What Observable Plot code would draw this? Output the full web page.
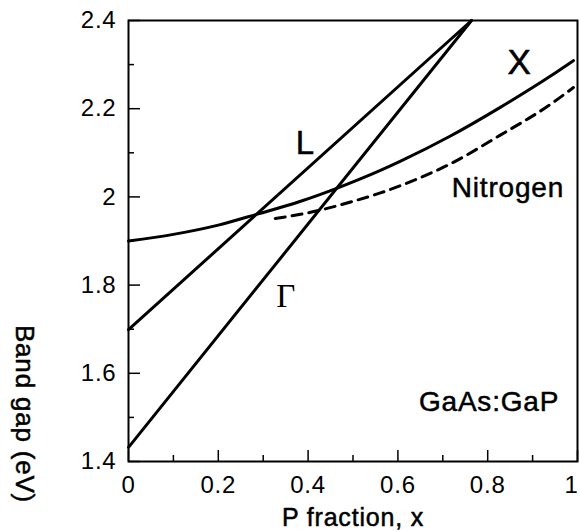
<!DOCTYPE html>
<html><head><meta charset="utf-8">
<script src="https://cdn.jsdelivr.net/npm/d3@7"></script>
<script src="https://cdn.jsdelivr.net/npm/@observablehq/plot@0.6"></script>
<style>
html,body{margin:0;padding:0;background:#fff;}
#chart svg text{letter-spacing:0.8px;}
</style></head><body><div id="chart"></div>
<script>
// Band edges vs P fraction x (GaAs:GaP)
const gammaX = [0, 0.764];
const gammaE = [1.432, 2.4];
const lX = [0, 0.764];
const lE = [1.699, 2.4];
const xBandX = [0, 0.1, 0.2, 0.287, 0.38, 0.465, 0.561, 0.606, 0.717, 0.828, 0.94, 0.991];
const xBandE = [1.900, 1.915, 1.936, 1.961, 1.989, 2.02, 2.06, 2.081, 2.138, 2.203, 2.274, 2.309];
const nitroX = [0.327, 0.423, 0.5, 0.561, 0.612, 0.717, 0.828, 0.94, 0.991];
const nitroE = [1.951, 1.969, 1.99, 2.009, 2.028, 2.075, 2.14, 2.21, 2.248];

const xMajor = [0, 0.2, 0.4, 0.6, 0.8, 1];
const xMinor = [0.1, 0.3, 0.5, 0.7, 0.9];
const yMajor = [1.4, 1.6, 1.8, 2.0, 2.2, 2.4];
const yMinor = [1.5, 1.7, 1.9, 2.1, 2.3];

const labelText = ["L", "Γ", "X", "Nitrogen", "GaAs:GaP"];
const labelX = [0.394, 0.351, 0.871, 0.845, 0.803];
const labelY = [2.121, 1.774, 2.305, 2.019, 1.534];

const toRows = (xs, es) => xs.map((x, i) => ({x, e: es[i]}));
const gamma = toRows(gammaX, gammaE);
const lband = toRows(lX, lE);
const xband = toRows(xBandX, xBandE);
const nitro = toRows(nitroX, nitroE);
const labels = labelText.map((t, i) => ({t, x: labelX[i], y: labelY[i]}));

const fmt = d => String(+d.toFixed(1));
const sans = "'Liberation Sans', Arial, Helvetica, sans-serif";
const heavy = {fill: "black", stroke: "black", strokeWidth: 0.5};
const xLast = xMajor[xMajor.length - 1];

const chart = Plot.plot({
  width: 580, height: 532,
  marginLeft: 128, marginRight: 3, marginTop: 20, marginBottom: 71,
  style: {fontFamily: sans, background: "#fff", color: "black", overflow: "visible"},
  x: {domain: [0, 1]},
  y: {domain: [1.4, 2.4]},
  marks: [
    Plot.frame({stroke: "black", strokeWidth: 2}),
    Plot.axisY(yMajor, {tickSize: -12, text: null, strokeWidth: 1.5, label: null}),
    Plot.axisY(yMinor, {tickSize: -6, text: null, strokeWidth: 1.5, label: null}),
    Plot.axisY(yMajor, {tickSize: 0, tickPadding: 12, fontSize: 24, tickFormat: fmt, label: null, ...heavy}),
    Plot.axisX(xMajor, {tickSize: -11, text: null, strokeWidth: 1.5, label: null}),
    Plot.axisX(xMinor, {tickSize: -6, text: null, strokeWidth: 1.5, label: null}),
    Plot.axisX(xMajor.filter(d => d !== xLast), {tickSize: 0, tickPadding: 14, fontSize: 24, tickFormat: fmt, label: null, ...heavy}),
    Plot.axisX([xLast], {tickSize: 0, tickPadding: 14, fontSize: 24, tickFormat: fmt, label: null, dx: -6, ...heavy}),
    Plot.line(gamma, {x: "x", y: "e", stroke: "black", strokeWidth: 3}),
    Plot.line(lband, {x: "x", y: "e", stroke: "black", strokeWidth: 3}),
    Plot.line(xband, {x: "x", y: "e", stroke: "black", strokeWidth: 3, curve: "monotone-x"}),
    Plot.line(nitro, {x: "x", y: "e", stroke: "black", strokeWidth: 3, curve: "monotone-x", strokeDasharray: "10,7"}),
    Plot.text(labels.filter(d => d.t === "L"), {x: "x", y: "y", text: "t", fontSize: 33, ...heavy}),
    Plot.text(labels.filter(d => d.t === "X"), {x: "x", y: "y", text: "t", fontSize: 35, ...heavy}),
    Plot.text(labels.filter(d => d.t === "Γ"), {x: "x", y: "y", text: "t", fontSize: 33, fill: "black", fontFamily: "'Liberation Serif', 'Times New Roman', serif"}),
    Plot.text(labels.filter(d => d.t === "Nitrogen" || d.t === "GaAs:GaP"), {x: "x", y: "y", text: "t", fontSize: 28, ...heavy}),
    Plot.text(["P fraction, x"], {frameAnchor: "bottom", textAnchor: "middle", lineAnchor: "middle", dy: 56, fontSize: 25, ...heavy}),
    Plot.text(["Band gap (eV)"], {frameAnchor: "left", textAnchor: "middle", lineAnchor: "middle", dx: -104, dy: 173, rotate: 90, fontSize: 26, ...heavy})
  ]
});
document.getElementById("chart").appendChild(chart);
</script></body></html>
